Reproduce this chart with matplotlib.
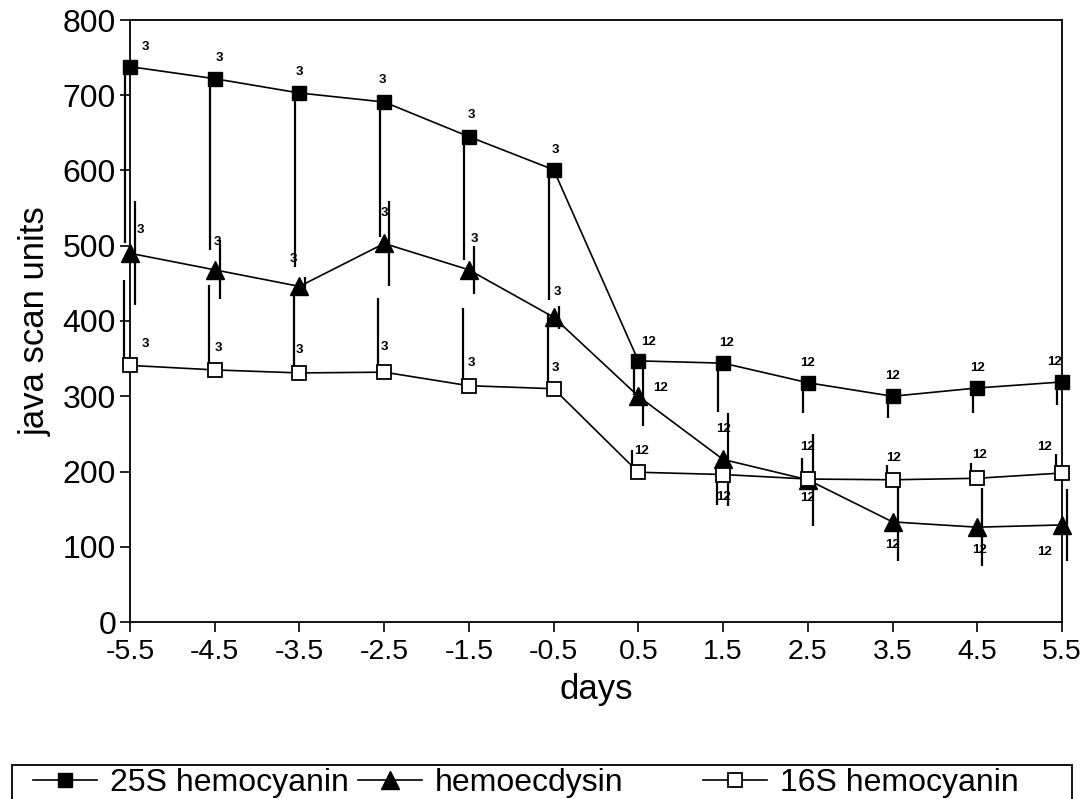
import matplotlib
matplotlib.use("Agg")
import matplotlib.pyplot as plt
from matplotlib.patches import Rectangle
from matplotlib.lines import Line2D

# data
days = [-5.5, -4.5, -3.5, -2.5, -1.5, -0.5, 0.5, 1.5, 2.5, 3.5, 4.5, 5.5]

hc25 = [738, 722, 703, 691, 645, 601, 347, 344, 318, 300, 311, 319]
hc25_err = [235, 228, 231, 179, 164, 173, 45, 65, 40, 29, 33, 31]

hecd = [490, 468, 446, 503, 468, 405, 300, 216, 189, 133, 126, 129]
hecd_err = [69, 39, 12, 56, 32, 15, 40, 62, 61, 52, 52, 48]

hc16 = [341, 335, 331, 332, 314, 310, 199, 196, 190, 189, 191, 198]
hc16_err_lo = [0, 0, 0, 0, 0, 0, 0, 40, 0, 0, 0, 0]
hc16_err_hi = [113, 113, 106, 99, 103, 100, 30, 0, 28, 20, 20, 25]

n_labels = ["3", "3", "3", "3", "3", "3", "12", "12", "12", "12", "12", "12"]

# label offsets in pixels (dx, dy up)
off25 = [(15, 20), (5, 21), (0, 21), (-2, 22), (2, 22), (2, 20),
         (10, 19), (3, 20), (0, 20), (0, 20), (0, 20), (-8, 20)]
offhe = [(10, 23), (3, 28), (-6, 27), (0, 30), (5, 31), (4, 25),
         (22, 8), (0, 30), (0, -18), (0, -23), (2, -23), (-18, -27)]
off16 = [(15, 21), (4, 22), (0, 23), (0, 25), (2, 23), (2, 21),
         (3, 21), (0, -22), (0, 32), (1, 22), (2, 23), (-18, 26)]

plt.rcParams['font.family'] = ['Liberation Sans', 'DejaVu Sans']

fig = plt.figure(figsize=(10.84, 7.99), dpi=100)
ax = fig.add_axes([130 / 1084, 1 - 622 / 799, 932 / 1084, 602 / 799])

def shift(xs, d):
    return [x + d for x in xs]

# error bars (plain vertical lines, slightly offset like the original)
ax.errorbar(shift(days, -0.055), hc25, yerr=[hc25_err, [0] * 12], fmt='none',
            ecolor='black', elinewidth=1.6, capsize=0, clip_on=False)
ax.errorbar(shift(days, 0.06), hecd, yerr=hecd_err, fmt='none',
            ecolor='black', elinewidth=1.6, capsize=0, clip_on=False)
ax.errorbar(shift(days, -0.07), hc16, yerr=[hc16_err_lo, hc16_err_hi], fmt='none',
            ecolor='black', elinewidth=1.6, capsize=0, clip_on=False)

l25, = ax.plot(days, hc25, color='black', lw=1.2, marker='s', ms=10,
               mfc='black', mec='black', clip_on=False, zorder=5)
lhe, = ax.plot(days, hecd, color='black', lw=1.2, marker='^', ms=13,
               mfc='black', mec='black', clip_on=False, zorder=5)
l16, = ax.plot(days, hc16, color='black', lw=1.2, marker='s', ms=10,
               mfc='white', mec='black', mew=1.3, clip_on=False, zorder=5)

for ys, offs in [(hc25, off25), (hecd, offhe), (hc16, off16)]:
    for x, y, lab, (dx, dy) in zip(days, ys, n_labels, offs):
        ax.annotate(lab, (x, y), xytext=(dx * 0.72, dy * 0.72),
                    textcoords='offset points', ha='center', va='center',
                    fontsize=9.5, fontweight='bold', zorder=6)

ax.set_xlim(-5.5, 5.5)
ax.set_ylim(0, 800)
ax.set_xticks(days)
ax.set_xticklabels([f"{d:g}" for d in days], fontsize=20.5)
ax.set_yticks(range(0, 801, 100))
ax.tick_params(axis='y', labelsize=23, length=7, width=1.2, direction='out', pad=3)
ax.tick_params(axis='x', length=7, width=1.2, direction='out', pad=5)
for s in ax.spines.values():
    s.set_linewidth(1.3)

ax.set_xlabel("days", fontsize=25, labelpad=6)
ax.set_ylabel("java scan units", fontsize=25, labelpad=8)

# legend box, cut off by the bottom of the page like the scan
fig.patches.append(Rectangle((12 / 1084, -0.05), 1060 / 1084, 0.05 + 1 - 765 / 799,
                             transform=fig.transFigure, fill=False,
                             edgecolor='black', lw=1.3))

for line, name, xpos in [(l25, "25S hemocyanin", 33),
                         (lhe, "hemoecdysin", 358),
                         (l16, "16S hemocyanin", 703)]:
    h = Line2D([], [], color='black', lw=1.2, marker=line.get_marker(),
               ms=line.get_markersize(), mfc=line.get_markerfacecolor(),
               mec='black', mew=line.get_markeredgewidth())
    fig.legend([h], [name], loc='center left',
               bbox_to_anchor=(xpos / 1084, 1 - 783 / 799), frameon=False,
               fontsize=23, handlelength=2.0, handletextpad=0.4,
               borderpad=0, borderaxespad=0)

fig.savefig("out.png", dpi=100)
